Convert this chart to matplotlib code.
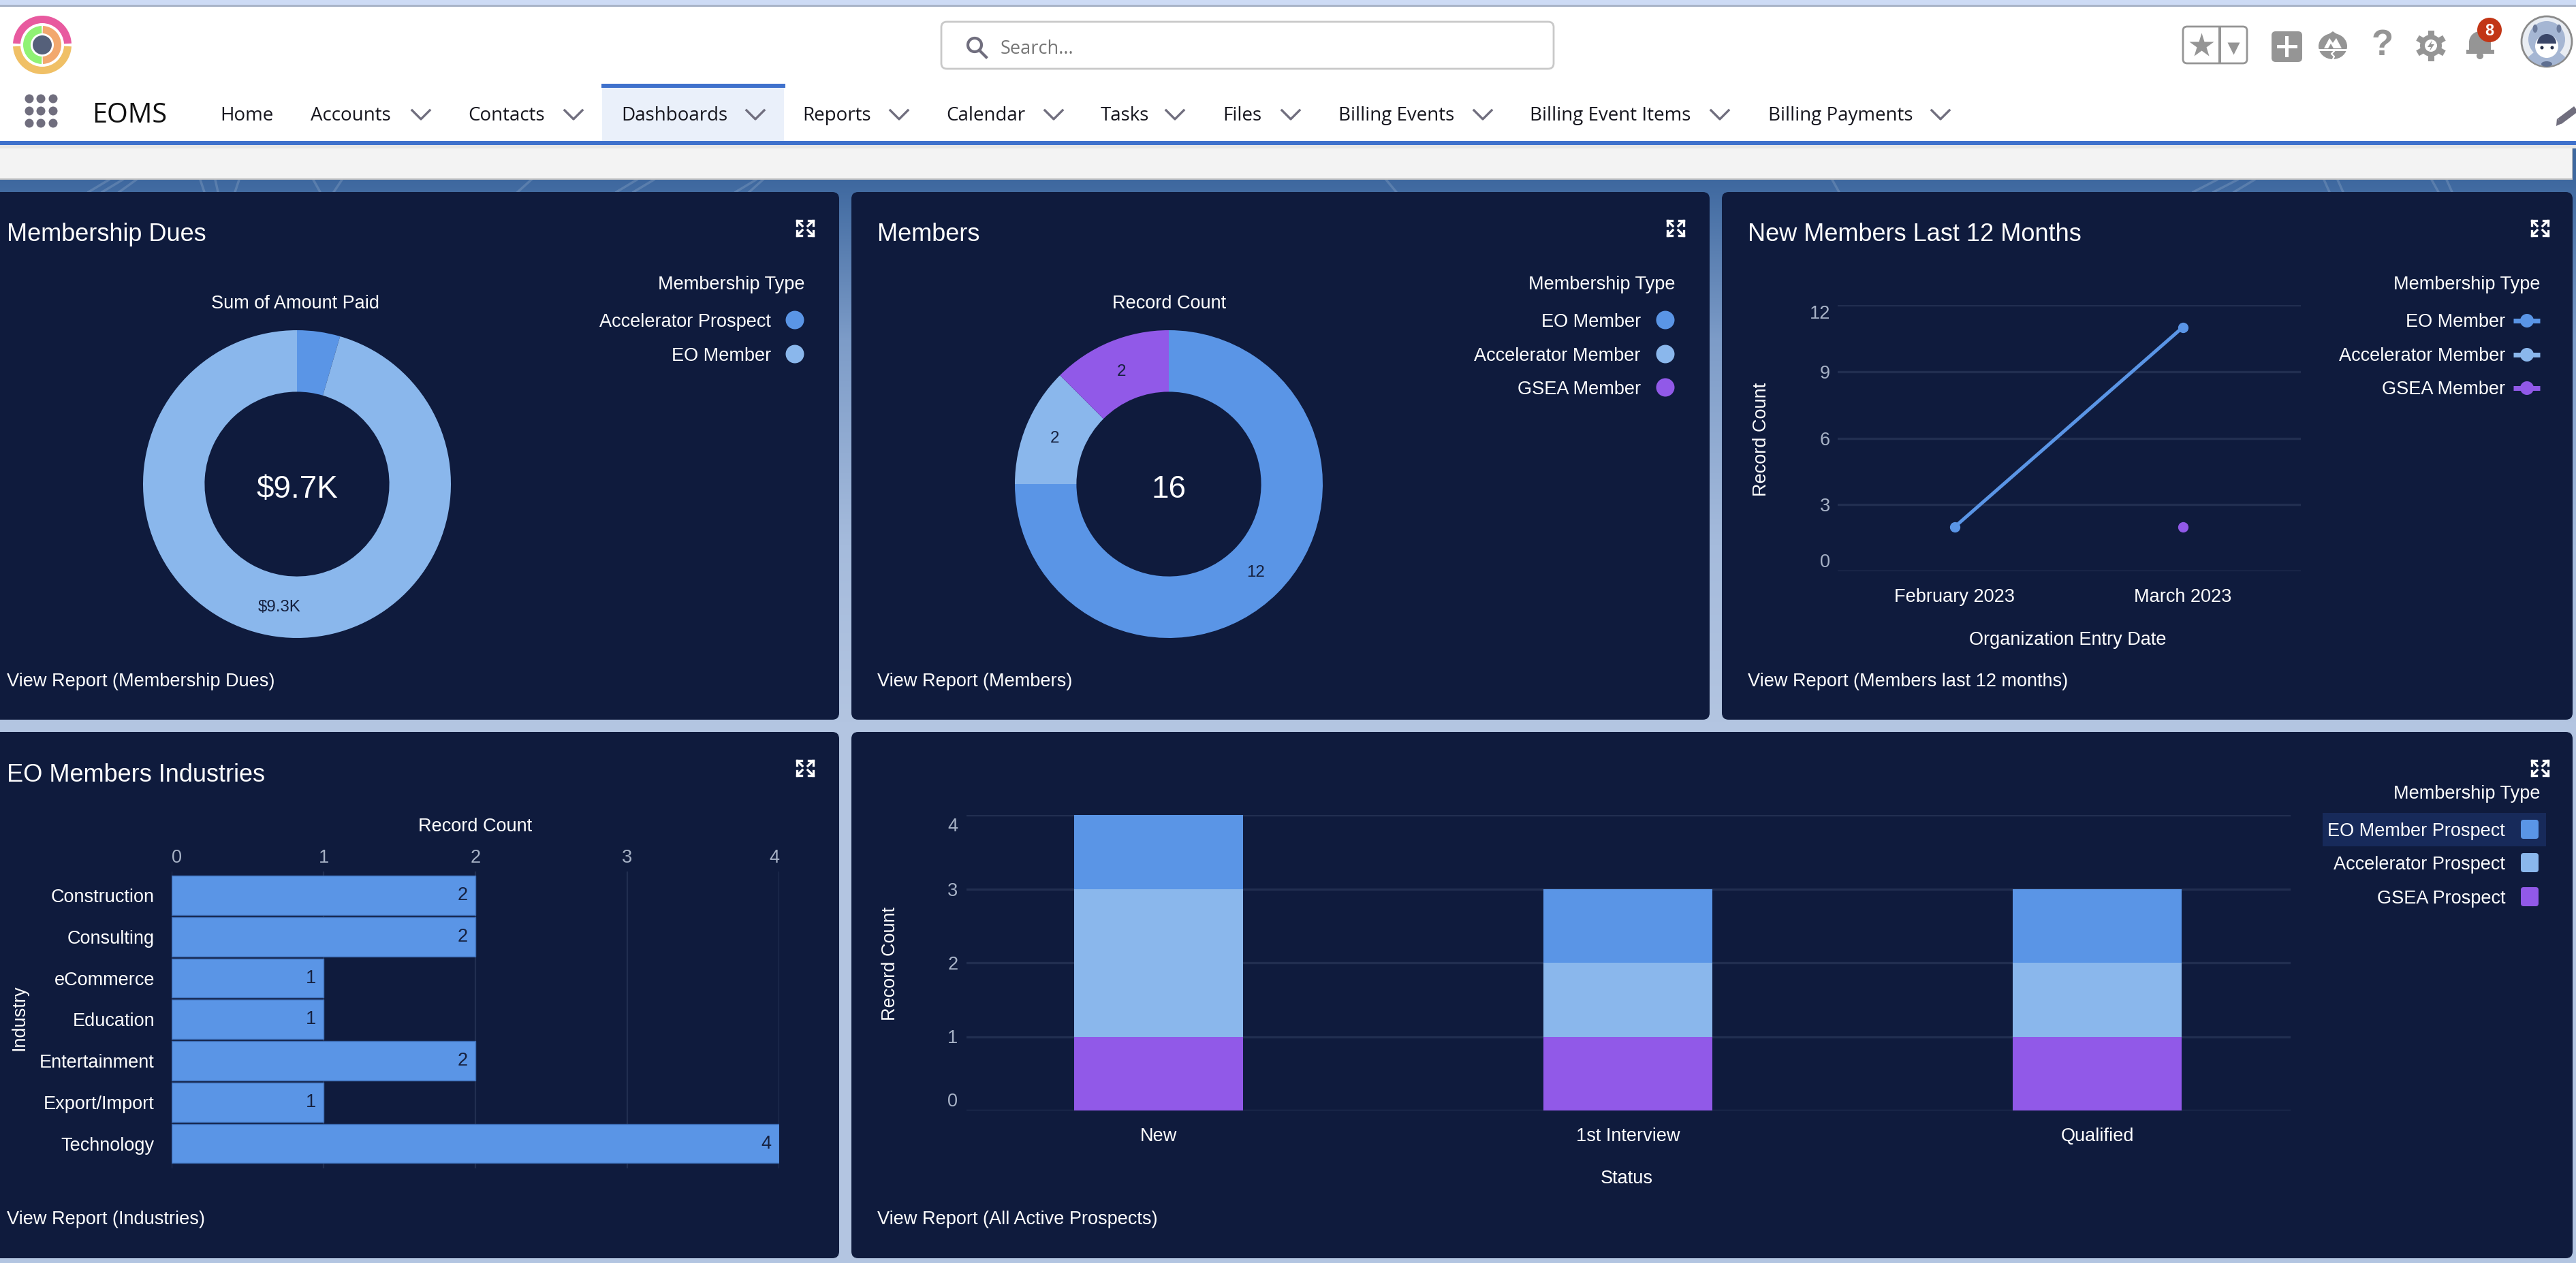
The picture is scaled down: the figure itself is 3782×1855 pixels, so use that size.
import numpy as np
import matplotlib
matplotlib.use("Agg")
import matplotlib.pyplot as plt
from matplotlib.colors import to_rgb
from matplotlib.patches import Circle, Ellipse, FancyBboxPatch, Polygon, Rectangle, Wedge
from matplotlib.transforms import ScaledTranslation

W, H = 3782, 1855
PX = 0.72  # points per pixel at dpi 100
FS = 19.5

NAVY = "#0f1b3d"
BLUE = "#5a95e6"
LIGHT = "#8ab7ec"
PURPLE = "#9159e8"
GRID = "#212e50"
TICK = "#a7b2c6"
DARK = "#16213f"
NAV_BLUE = "#3f71cc"
ICON = "#959595"

plt.rcParams["font.family"] = ["Liberation Sans", "DejaVu Sans"]

# data
NAV_ITEMS = ["Home", "Accounts", "Contacts", "Dashboards", "Reports", "Calendar",
             "Tasks", "Files", "Billing Events", "Billing Event Items", "Billing Payments"]
NAV_X = [323, 456, 687, 912, 1178, 1389, 1616, 1795, 1965, 2246, 2596]
NAV_CHEVRON = [None, 618, 842, 1109, 1320, 1547, 1725, 1895, 2177, 2525, 2849]

DUES_TYPES = ["Accelerator Prospect", "EO Member"]
DUES_VALUES = [440, 9300]
DUES_LABELS = ["", "$9.3K"]

MEMBER_TYPES = ["EO Member", "Accelerator Member", "GSEA Member"]
MEMBER_COUNTS = [12, 2, 2]

LINE_DATES = ["February 2023", "March 2023"]
LINE_EO = [2, 11]
LINE_GSEA = [np.nan, 2]
LINE_TICKS = [0, 3, 6, 9, 12]

INDUSTRIES = ["Construction", "Consulting", "eCommerce", "Education",
              "Entertainment", "Export/Import", "Technology"]
INDUSTRY_COUNTS = [2, 2, 1, 1, 2, 1, 4]

STATUSES = ["New", "1st Interview", "Qualified"]
PROSPECT_TYPES = ["EO Member Prospect", "Accelerator Prospect", "GSEA Prospect"]
PROSPECT_GSEA = [1, 1, 1]
PROSPECT_ACC = [2, 1, 1]
PROSPECT_EO = [1, 1, 1]


def px_axes(fig, x0, y0, x1, y1):
    # axes from pixel box, y counted from the top
    ax = fig.add_axes([x0 / W, 1 - y1 / H, (x1 - x0) / W, (y1 - y0) / H])
    ax.set_facecolor("none")
    ax.set_zorder(5)
    return ax


def label(bg, x, y, s, size=FS, color="white", ha="left", **kw):
    bg.text(x, y + 3, s, fontsize=size, color=color, ha=ha, va="center", **kw)


def rect(bg, x0, y0, x1, y1, color, z=1, **kw):
    bg.add_patch(Rectangle((x0, y0), x1 - x0, y1 - y0, fc=color, ec="none", zorder=z, **kw))


def panel(bg, x0, y0, x1, y1):
    bg.add_patch(FancyBboxPatch((x0 + 10, y0 + 10), x1 - x0 - 20, y1 - y0 - 20,
                                boxstyle="round,pad=10,rounding_size=10",
                                fc=NAVY, ec="none", zorder=2))


def expand_icon(bg, x, y):
    for sx in (-1, 1):
        for sy in (-1, 1):
            bg.plot([x + sx * 12, x + sx * 5], [y + sy * 11, y + sy * 11], color="white", lw=2.4, zorder=4)
            bg.plot([x + sx * 12, x + sx * 12], [y + sy * 11, y + sy * 4], color="white", lw=2.4, zorder=4)
            bg.plot([x + sx * 11, x + sx * 4], [y + sy * 10, y + sy * 3], color="white", lw=2.4, zorder=4)


def legend(bg, title_x, title_y, text_x, mark_x, names, colors, ys, kind="dot"):
    label(bg, title_x, title_y, "Membership Type", ha="right", zorder=4)
    for name, col, y in zip(names, colors, ys):
        label(bg, text_x, y, name, ha="right", zorder=4)
        if kind == "dot":
            bg.add_patch(Circle((mark_x, y), 13.5, fc=col, ec="none", zorder=4))
        elif kind == "line":
            bg.plot([mark_x - 20, mark_x + 19], [y + 1, y + 1], color=col, lw=7 * PX, zorder=4, solid_capstyle="butt")
            bg.add_patch(Circle((mark_x, y + 1), 10, fc=col, ec="none", zorder=4))
        else:
            bg.add_patch(FancyBboxPatch((mark_x - 9, y - 10), 18, 20,
                                        boxstyle="round,pad=4,rounding_size=4",
                                        fc=col, ec="none", zorder=4))


def donut(fig, cx, cy, values, colors, slice_labels, center):
    r = 226 * 1.01
    ax = px_axes(fig, cx - r, cy - r, cx + r, cy + r)
    wedges, _ = ax.pie(values, colors=colors, startangle=90, counterclock=False,
                       radius=1.0, wedgeprops={"width": 0.4, "linewidth": 0})
    ax.set_xlim(-1.01, 1.01)
    ax.set_ylim(-1.01, 1.01)
    for w, s in zip(wedges, slice_labels):
        mid = np.deg2rad((w.theta1 + w.theta2) / 2)
        ax.text(0.8 * np.cos(mid), 0.8 * np.sin(mid) - 0.01, s, ha="center", va="center",
                fontsize=17.4, color=DARK)
    ax.text(0, -0.035, center, ha="center", va="center", fontsize=33, color="white")
    return ax


def draw_chrome(bg):
    # page background: blue at the top fading out to pale blue
    stops_y = [264, 500, 800, 1060, H]
    stops_c = np.array([to_rgb(c) for c in ["#3e689f", "#7d9cc8", "#a5bbdc", "#b3c5e1", "#b3c5e1"]])
    ys = np.arange(H)
    grad = np.stack([np.interp(ys, stops_y, stops_c[:, i]) for i in range(3)], axis=1)[:, None, :]
    bg.imshow(grad, extent=[0, W, H, 0], aspect="auto", zorder=0)

    # faint contour streaks on the strip above the panels
    for x, dx in [(130, 30), (150, 30), (175, 25), (300, -6), (320, -4), (345, 6), (470, -10), (490, 12),
                  (760, 20), (905, 30), (930, 30), (1080, 30), (1100, 20), (2050, -15), (2700, -10),
                  (3220, 35), (3250, 35), (3280, 30), (3420, -8), (3440, -8), (3580, -10), (3600, -8)]:
        bg.plot([x, x + dx], [282, 264], color="white", lw=2.5, alpha=0.14, zorder=0.5)

    rect(bg, 0, 0, W, 7, "#cddbf5")
    rect(bg, 0, 7, W, 10, "#a9b4c8")
    rect(bg, 0, 10, W, 207, "white")
    rect(bg, 0, 213, 3777, 262, "#f3f3f3")
    rect(bg, 0, 262, 3777, 264, "#c4c4c4")
    rect(bg, 3776, 213, 3777, 262, "#c4c4c4")
    rect(bg, 0, 213, W, 218, "#e6e6e6")
    rect(bg, 0, 207, W, 213, NAV_BLUE)

    # logo
    c = (62, 66)
    bg.add_patch(Wedge(c, 43, 3, 177, width=11, fc="#f0c066", ec="none", zorder=3))
    bg.add_patch(Wedge(c, 43, 183, 357, width=11, fc="#e85a9f", ec="none", zorder=3))
    bg.add_patch(Wedge(c, 28, 92, 268, width=11, fc="#90f274", ec="none", zorder=3))
    bg.add_patch(Wedge(c, 28, -88, 88, width=11, fc="#f2a86e", ec="none", zorder=3))
    bg.add_patch(Circle(c, 14, fc="#55607a", ec="none", zorder=3))

    # app launcher dots and app name
    for x in (43, 60, 78):
        for y in (145, 163, 181):
            bg.add_patch(Circle((x, y), 6.5, fc="#706e7e", ec="none", zorder=3))
    label(bg, 135, 167, "EOMS", size=28.5, color="#111111", family="Open Sans")

    # nav tabs
    rect(bg, 884, 129, 1151, 207, "#eaf0fa", z=2)
    rect(bg, 883, 123, 1153, 129, NAV_BLUE, z=2)
    for name, x, chev in zip(NAV_ITEMS, NAV_X, NAV_CHEVRON):
        label(bg, x, 167, name, size=20, color="#16161e", family="Open Sans", zorder=3)
        if chev is not None:
            bg.plot([chev - 13, chev, chev + 13], [162, 175, 162], color="#706e7e", lw=2.4, zorder=3)

    # search box
    bg.add_patch(FancyBboxPatch((1390, 40), 883, 53, boxstyle="round,pad=8,rounding_size=8",
                                fc="white", ec="#c9c9c9", lw=2, zorder=3))
    bg.add_patch(Circle((1431, 66), 10, fc="none", ec="#706e7e", lw=3, zorder=4))
    bg.plot([1438, 1448], [74, 84], color="#706e7e", lw=3, zorder=4)
    label(bg, 1469, 69, "Search...", size=19.5, color="#767676", family="Open Sans", zorder=4)

    # favourites
    bg.add_patch(FancyBboxPatch((3211, 45), 82, 42, boxstyle="round,pad=6,rounding_size=6",
                                fc="white", ec=ICON, lw=2, zorder=3))
    rect(bg, 3257, 39, 3261, 93, ICON, z=4)
    bg.plot([3232], [67], marker="*", ms=27, color=ICON, mec="none", zorder=4)
    bg.plot([3279], [71], marker="v", ms=13, color=ICON, mec="none", zorder=4)

    # plus button
    bg.add_patch(FancyBboxPatch((3341, 52), 33, 33, boxstyle="round,pad=6,rounding_size=6",
                                fc=ICON, ec="none", zorder=3))
    rect(bg, 3343, 66, 3373, 71, "white", z=4)
    rect(bg, 3355, 53, 3360, 84, "white", z=4)

    # trailhead icon
    bg.add_patch(Ellipse((3425, 68), 42, 38, fc=ICON, ec="none", zorder=3))
    bg.add_patch(Polygon([(3408, 58), (3425, 46), (3442, 58)], fc=ICON, ec="none", zorder=3))
    bg.add_patch(Polygon([(3412, 71), (3420, 56), (3425, 63), (3430, 56), (3438, 71)], fc="white", ec="none", zorder=4))
    bg.add_patch(Polygon([(3418, 71), (3422, 64), (3426, 71)], fc=ICON, ec="none", zorder=4))
    rect(bg, 3403, 72, 3447, 75, "white", z=4)
    bg.plot([3427, 3423, 3427, 3425], [75, 79, 83, 87], color="white", lw=1.6, zorder=4)

    # help
    label(bg, 3498, 64, "?", size=38, color=ICON, ha="center", weight="bold", zorder=3)

    # gear
    for a in np.arange(0, 360, 60) + 30:
        t = np.deg2rad(a)
        bg.plot([3569, 3569 + 18 * np.cos(t)], [67, 67 + 18 * np.sin(t)], color=ICON, lw=6.5, zorder=3)
    bg.add_patch(Circle((3569, 67), 16, fc=ICON, ec="none", zorder=3))
    bg.add_patch(Circle((3569, 67), 9, fc="white", ec="none", zorder=4))
    bg.add_patch(Polygon([(3571, 59), (3564, 69), (3569, 69), (3567, 75), (3574, 65), (3569, 65)],
                         fc=ICON, ec="none", zorder=5))

    # bell with badge
    bg.add_patch(Wedge((3641, 62), 16, 180, 360, fc=ICON, ec="none", zorder=3))
    rect(bg, 3625, 61, 3657, 76, ICON, z=3)
    rect(bg, 3621, 73, 3662, 79, ICON, z=3)
    bg.add_patch(Circle((3641, 82), 5, fc=ICON, ec="none", zorder=3))
    bg.add_patch(Circle((3655, 44), 18, fc="#c23616", ec="none", zorder=4))
    label(bg, 3655, 42, "8", size=17, ha="center", weight="bold", zorder=5)

    # avatar
    bg.add_patch(Circle((3739, 61), 37, fc="#e9edf3", ec="#8a8a8a", lw=2, zorder=3))
    bg.add_patch(Circle((3739, 58), 27, fc="#a5b6d3", ec="none", zorder=4))
    bg.add_patch(Wedge((3739, 61), 36, 40, 140, fc="#a5b6d3", ec="none", zorder=4))
    bg.add_patch(Ellipse((3722, 42), 7, 12, fc="#6b7a9a", ec="none", zorder=5))
    bg.add_patch(Ellipse((3757, 42), 7, 12, fc="#6b7a9a", ec="none", zorder=5))
    bg.add_patch(Circle((3739, 68), 17, fc="white", ec="none", zorder=5))
    bg.add_patch(Wedge((3739, 64), 14, 180, 360, fc="#3a4668", ec="none", zorder=6))
    bg.add_patch(Circle((3732, 70), 2.5, fc="#27304a", ec="none", zorder=6))
    bg.add_patch(Circle((3747, 70), 2.5, fc="#27304a", ec="none", zorder=6))
    bg.add_patch(Ellipse((3739, 94), 16, 8, fc="#5f6f90", ec="none", zorder=5))

    # pencil
    bg.plot([3758, 3782], [178, 160], color="#706e7e", lw=7, zorder=3, solid_capstyle="butt")
    bg.add_patch(Polygon([(3753, 185), (3754, 174), (3762, 181)], fc="#706e7e", ec="none", zorder=3))


def main():
    fig = plt.figure(figsize=(W / 100, H / 100), dpi=100, facecolor="white")

    bg = fig.add_axes([0, 0, 1, 1])
    bg.set_xlim(0, W)
    bg.set_ylim(H, 0)
    bg.axis("off")
    draw_chrome(bg)
    bg.set_xlim(0, W)
    bg.set_ylim(H, 0)

    panel(bg, -20, 282, 1232, 1057)
    panel(bg, 1250, 282, 2510, 1057)
    panel(bg, 2528, 282, 3777, 1057)
    panel(bg, -20, 1075, 1232, 1848)
    panel(bg, 1250, 1075, 3777, 1848)

    titles = [(10, 342, "Membership Dues"), (1288, 342, "Members"),
              (2566, 342, "New Members Last 12 Months"), (10, 1135, "EO Members Industries")]
    for x, y, s in titles:
        label(bg, x, y, s, size=26, zorder=4)
    footers = [(10, 998, "View Report (Membership Dues)"), (1288, 998, "View Report (Members)"),
               (2566, 998, "View Report (Members last 12 months)"), (10, 1788, "View Report (Industries)"),
               (1288, 1788, "View Report (All Active Prospects)")]
    for x, y, s in footers:
        label(bg, x, y, s, zorder=4)
    for x, y in [(1182, 335), (2460, 335), (3729, 335), (1182, 1128), (3729, 1128)]:
        expand_icon(bg, x, y)

    top_ys = [470, 520, 569]

    # Membership Dues donut
    label(bg, 433, 443, "Sum of Amount Paid", ha="center", zorder=4)
    donut(fig, 436, 711, DUES_VALUES, [BLUE, LIGHT], DUES_LABELS, "$9.7K")
    legend(bg, 1182, 415, 1132, 1167, DUES_TYPES, [BLUE, LIGHT], top_ys)

    # Members donut
    label(bg, 1717, 443, "Record Count", ha="center", zorder=4)
    donut(fig, 1716, 711, MEMBER_COUNTS, [BLUE, LIGHT, PURPLE],
          [str(v) for v in MEMBER_COUNTS], str(sum(MEMBER_COUNTS)))
    legend(bg, 2459, 415, 2409, 2445, MEMBER_TYPES, [BLUE, LIGHT, PURPLE], top_ys)

    # New members line chart
    ax = px_axes(fig, 2698, 448, 3378, 839)
    xs = np.arange(len(LINE_DATES))
    ax.plot(xs, LINE_EO, color=BLUE, lw=5 * PX, marker="o", ms=10)
    ax.plot(xs, LINE_GSEA, color=PURPLE, lw=5 * PX, marker="o", ms=10)
    ax.set_xlim(-0.513, 1.517)
    ax.set_ylim(0, 12)
    ax.set_xticks(xs, LINE_DATES)
    ax.set_yticks(LINE_TICKS)
    ax.grid(axis="y", color=GRID, lw=2.4)
    ax.set_axisbelow(True)
    ax.tick_params(axis="x", length=0, pad=18, labelsize=FS, labelcolor="white")
    ax.tick_params(axis="y", length=0, pad=8, labelsize=FS, labelcolor=TICK)
    tl = ax.get_yticklabels()
    tl[0].set_va("bottom")
    tl[-1].set_va("top")
    for s in ax.spines.values():
        s.set_visible(False)
    ax.set_xlabel("Organization Entry Date", fontsize=FS, color="white", va="center")
    ax.xaxis.set_label_coords(3036, 940, transform=bg.transData)
    ax.set_ylabel("Record Count", fontsize=FS, color="white", va="center")
    ax.yaxis.set_label_coords(2586, 645, transform=bg.transData)
    legend(bg, 3729, 415, 3678, 3710, MEMBER_TYPES, [BLUE, LIGHT, PURPLE], top_ys, kind="line")

    # EO Members Industries bar chart
    ax = px_axes(fig, 252, 1280, 1144, 1716)
    ys = np.arange(len(INDUSTRIES))
    bars = ax.barh(ys, INDUSTRY_COUNTS, height=0.95, color=BLUE, edgecolor="#3d6db5", lw=1)
    ax.bar_label(bars, padding=-19, fontsize=FS, color=DARK)
    ax.set_xlim(0, 4)
    ax.set_ylim(6.6, -0.577)
    ax.set_xticks(range(5))
    ax.set_yticks(ys, INDUSTRIES)
    ax.xaxis.tick_top()
    ax.grid(axis="x", color=GRID, lw=1.6)
    ax.set_axisbelow(True)
    ax.tick_params(axis="x", length=0, pad=5, labelsize=FS, labelcolor=TICK)
    ax.tick_params(axis="y", length=0, pad=18, labelsize=FS, labelcolor="white")
    tl = ax.get_xticklabels()
    tl[0].set_ha("left")
    tl[-1].set_ha("right")
    for s in ax.spines.values():
        s.set_visible(False)
    ax.xaxis.set_label_position("top")
    ax.set_xlabel("Record Count", fontsize=FS, color="white", va="center")
    ax.xaxis.set_label_coords(698, 1214, transform=bg.transData)
    ax.set_ylabel("Industry", fontsize=FS, color="white", va="center")
    ax.yaxis.set_label_coords(28, 1495, transform=bg.transData)

    # Prospects stacked bars
    ax = px_axes(fig, 1419, 1197, 3363, 1631)
    xs = np.arange(len(STATUSES))
    gsea = np.array(PROSPECT_GSEA)
    acc = np.array(PROSPECT_ACC)
    eo = np.array(PROSPECT_EO)
    ax.bar(xs, gsea, width=0.36, color=PURPLE)
    ax.bar(xs, acc, width=0.36, bottom=gsea, color=LIGHT)
    ax.bar(xs, eo, width=0.36, bottom=gsea + acc, color=BLUE)
    ax.set_xlim(-0.409, 2.412)
    ax.set_ylim(0, 4)
    ax.set_xticks(xs, STATUSES)
    ax.set_yticks(range(5))
    ax.grid(axis="y", color=GRID, lw=2.4)
    ax.set_axisbelow(True)
    ax.tick_params(axis="x", length=0, pad=18, labelsize=FS, labelcolor="white")
    ax.tick_params(axis="y", length=0, pad=9, labelsize=FS, labelcolor=TICK)
    tl = ax.get_yticklabels()
    tl[0].set_va("bottom")
    tl[-1].set_va("top")
    tl[-1].set_transform(tl[-1].get_transform() + ScaledTranslation(0, -4 / 100, fig.dpi_scale_trans))
    for s in ax.spines.values():
        s.set_visible(False)
    ax.set_xlabel("Status", fontsize=FS, color="white", va="center")
    ax.xaxis.set_label_coords(2388, 1731, transform=bg.transData)
    ax.set_ylabel("Record Count", fontsize=FS, color="white", va="center")
    ax.yaxis.set_label_coords(1307, 1415, transform=bg.transData)
    rect(bg, 3410, 1194, 3738, 1243, "#172a5a", z=3)
    legend(bg, 3729, 1163, 3678, 3714, PROSPECT_TYPES, [BLUE, LIGHT, PURPLE], [1218, 1267, 1317], kind="square")

    fig.savefig("out.png", dpi=100)


if __name__ == "__main__":
    main()
